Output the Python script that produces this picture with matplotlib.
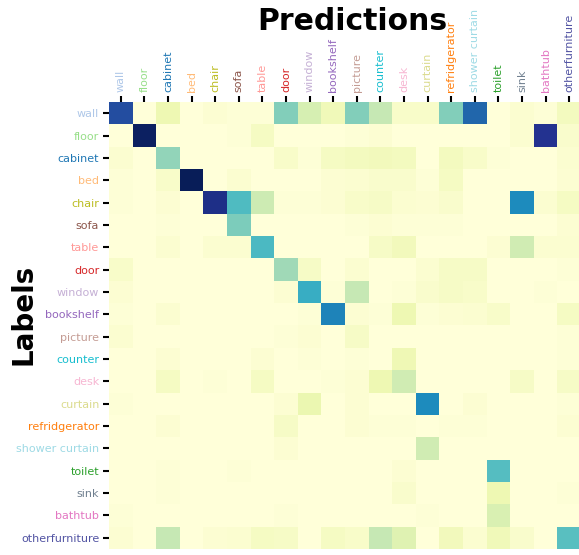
import numpy as np
import matplotlib
matplotlib.use("Agg")
import matplotlib.pyplot as plt

# ScanNet-20 classes and their palette colours
classes = ["wall", "floor", "cabinet", "bed", "chair", "sofa", "table", "door",
           "window", "bookshelf", "picture", "counter", "desk", "curtain",
           "refridgerator", "shower curtain", "toilet", "sink", "bathtub",
           "otherfurniture"]
class_colors = ["#aec7e8", "#98df8a", "#1f77b4", "#ffbb78", "#bcbd22", "#8c564b",
                "#ff9896", "#d62728", "#c5b0d5", "#9467bd", "#c49c94", "#17becf",
                "#f7b6d2", "#dbdb8d", "#ff7f0e", "#9edae5", "#2ca02c", "#708090",
                "#e377c2", "#5254a3"]

# confusion rows (label -> predicted fraction), one per ground-truth class
row_wall = [0.80, 0.00, 0.12, 0.00, 0.02, 0.01, 0.01, 0.37, 0.20, 0.10, 0.37, 0.25, 0.05, 0.05, 0.37, 0.73, 0.00, 0.03, 0.01, 0.08]
row_floor = [0.00, 0.98, 0.00, 0.00, 0.00, 0.01, 0.07, 0.00, 0.00, 0.00, 0.01, 0.02, 0.00, 0.00, 0.00, 0.00, 0.00, 0.03, 0.88, 0.04]
row_cabinet = [0.03, 0.00, 0.34, 0.00, 0.00, 0.00, 0.00, 0.05, 0.01, 0.07, 0.08, 0.09, 0.08, 0.00, 0.08, 0.05, 0.01, 0.00, 0.00, 0.03]
row_bed = [0.01, 0.00, 0.05, 1.00, 0.00, 0.03, 0.00, 0.00, 0.00, 0.02, 0.03, 0.04, 0.04, 0.01, 0.07, 0.00, 0.00, 0.00, 0.00, 0.02]
row_chair = [0.01, 0.00, 0.02, 0.00, 0.90, 0.47, 0.23, 0.01, 0.01, 0.02, 0.05, 0.06, 0.03, 0.02, 0.04, 0.00, 0.00, 0.64, 0.03, 0.07]
row_sofa = [0.00, 0.00, 0.01, 0.00, 0.00, 0.38, 0.00, 0.00, 0.00, 0.00, 0.01, 0.02, 0.01, 0.01, 0.01, 0.00, 0.00, 0.00, 0.00, 0.02]
row_table = [0.00, 0.00, 0.03, 0.00, 0.03, 0.03, 0.48, 0.00, 0.00, 0.00, 0.00, 0.06, 0.09, 0.00, 0.00, 0.00, 0.02, 0.22, 0.03, 0.03]
row_door = [0.05, 0.00, 0.00, 0.00, 0.00, 0.00, 0.00, 0.32, 0.06, 0.00, 0.03, 0.00, 0.00, 0.03, 0.06, 0.06, 0.00, 0.00, 0.00, 0.01]
row_window = [0.02, 0.00, 0.00, 0.00, 0.00, 0.00, 0.00, 0.02, 0.53, 0.01, 0.25, 0.00, 0.01, 0.04, 0.06, 0.05, 0.00, 0.00, 0.01, 0.00]
row_bookshelf = [0.01, 0.00, 0.03, 0.00, 0.00, 0.00, 0.00, 0.00, 0.01, 0.66, 0.02, 0.01, 0.12, 0.01, 0.02, 0.03, 0.05, 0.00, 0.00, 0.07]
row_picture = [0.03, 0.00, 0.00, 0.00, 0.00, 0.00, 0.00, 0.01, 0.02, 0.00, 0.06, 0.00, 0.00, 0.00, 0.00, 0.00, 0.00, 0.00, 0.00, 0.01]
row_counter = [0.00, 0.00, 0.02, 0.00, 0.00, 0.00, 0.02, 0.00, 0.01, 0.00, 0.01, 0.00, 0.11, 0.00, 0.00, 0.00, 0.00, 0.00, 0.00, 0.01]
row_desk = [0.00, 0.00, 0.07, 0.00, 0.01, 0.00, 0.07, 0.00, 0.00, 0.01, 0.02, 0.12, 0.22, 0.00, 0.00, 0.00, 0.00, 0.06, 0.00, 0.06]
row_curtain = [0.01, 0.00, 0.00, 0.00, 0.00, 0.00, 0.00, 0.02, 0.13, 0.00, 0.02, 0.00, 0.00, 0.64, 0.00, 0.02, 0.00, 0.00, 0.00, 0.01]
row_refridgerator = [0.00, 0.00, 0.02, 0.00, 0.00, 0.00, 0.00, 0.06, 0.00, 0.00, 0.02, 0.01, 0.01, 0.00, 0.01, 0.01, 0.00, 0.00, 0.00, 0.02]
row_shower_curtain = [0.00, 0.00, 0.00, 0.00, 0.00, 0.00, 0.00, 0.02, 0.00, 0.00, 0.00, 0.00, 0.00, 0.22, 0.00, 0.00, 0.00, 0.00, 0.00, 0.00]
row_toilet = [0.00, 0.00, 0.01, 0.00, 0.00, 0.01, 0.00, 0.00, 0.00, 0.00, 0.00, 0.00, 0.02, 0.00, 0.00, 0.00, 0.46, 0.00, 0.00, 0.00]
row_sink = [0.00, 0.00, 0.01, 0.00, 0.00, 0.00, 0.00, 0.00, 0.00, 0.00, 0.00, 0.00, 0.04, 0.00, 0.00, 0.00, 0.12, 0.00, 0.00, 0.01]
row_bathtub = [0.01, 0.00, 0.00, 0.00, 0.00, 0.00, 0.00, 0.01, 0.00, 0.00, 0.00, 0.00, 0.00, 0.01, 0.00, 0.00, 0.19, 0.00, 0.00, 0.00]
row_otherfurniture = [0.02, 0.00, 0.25, 0.00, 0.02, 0.03, 0.07, 0.06, 0.00, 0.07, 0.05, 0.25, 0.17, 0.00, 0.09, 0.03, 0.10, 0.04, 0.00, 0.45]

confusion = np.array([
    row_wall, row_floor, row_cabinet, row_bed, row_chair, row_sofa, row_table,
    row_door, row_window, row_bookshelf, row_picture, row_counter, row_desk,
    row_curtain, row_refridgerator, row_shower_curtain, row_toilet, row_sink,
    row_bathtub, row_otherfurniture,
])

W, H = 579, 555
fig = plt.figure(figsize=(W / 100, H / 100), dpi=100)
ax = fig.add_axes([109 / W, 6 / H, 472 / W, 447 / H])

ax.imshow(confusion, cmap="YlGnBu", vmin=0, vmax=1, aspect="auto",
          interpolation="nearest")

n = len(classes)
ax.set_xticks(np.arange(n))
ax.set_yticks(np.arange(n))
ax.set_xticklabels(classes, rotation=90, fontsize=8)
ax.set_yticklabels(classes, fontsize=8)
ax.xaxis.tick_top()
ax.tick_params(axis="both", length=4, width=1.5, color="black", pad=3)
for lbl, c in zip(ax.get_xticklabels(), class_colors):
    lbl.set_color(c)
for lbl, c in zip(ax.get_yticklabels(), class_colors):
    lbl.set_color(c)
for s in ax.spines.values():
    s.set_visible(False)

fig.text(352 / W, 1 - 21 / H, "Predictions", fontsize=21.5, fontweight="bold",
         ha="center", va="center")
fig.text(24 / W, 1 - 314 / H, "Labels", fontsize=20, fontweight="bold",
         ha="center", va="center", rotation=90)

fig.savefig("out.png", dpi=100)
